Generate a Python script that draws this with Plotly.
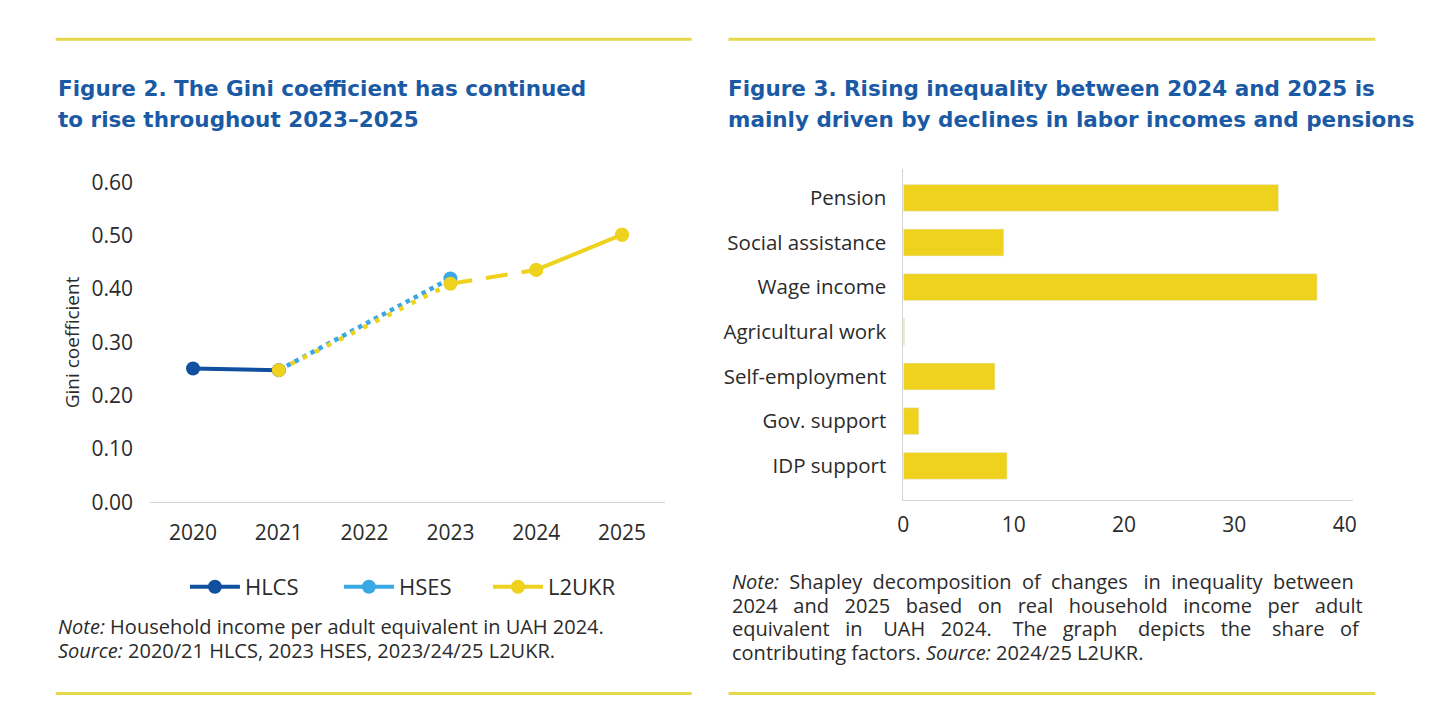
import re
import plotly.graph_objects as go

# page body keeps its default 8px margin, so the figure is sized to fit inside it
W, H = 1427, 711
OFF = 8

# --- Figure 2 data: Gini coefficient by survey
years = [2020, 2021, 2022, 2023, 2024, 2025]
hlcs_years = [2020, 2021]
hlcs_gini = [0.251, 0.248]
hses_years = [2023]
hses_gini = [0.42]
l2ukr_years = [2021, 2023, 2024, 2025]
l2ukr_gini = [0.248, 0.41, 0.436, 0.502]

# --- Figure 3 data: Shapley decomposition shares
factors = ["Pension", "Social assistance", "Wage income", "Agricultural work",
           "Self-employment", "Gov. support", "IDP support"]
shares = [34.0, 9.1, 37.5, 0.1, 8.3, 1.4, 9.4]

DARK_BLUE = "#114f9f"
LIGHT_BLUE = "#3aa8e2"
YELLOW = "#eed21e"
TITLE_BLUE = "#1a5aa5"
TEXT = "#2b2b2b"
FONT = "Open Sans"
TITLE_FONT = "DejaVu Sans"


def px_x(p):
    return (p - OFF) / W


def px_y(p):
    return 1 - (p - OFF) / H


fig = go.Figure()

# HLCS solid
fig.add_trace(go.Scatter(
    x=hlcs_years, y=hlcs_gini, name="HLCS", mode="lines+markers",
    line=dict(color=DARK_BLUE, width=4), marker=dict(size=14, color=DARK_BLUE),
    legend="legend", xaxis="x", yaxis="y"))
# HSES dotted connector from last HLCS point
fig.add_trace(go.Scatter(
    x=[hlcs_years[-1]] + hses_years, y=[hlcs_gini[-1]] + hses_gini,
    mode="lines", line=dict(color=LIGHT_BLUE, width=4.5, dash="4.5px,4.5px"),
    showlegend=False, xaxis="x", yaxis="y"))
fig.add_trace(go.Scatter(
    x=hses_years, y=hses_gini, name="HSES", mode="lines+markers",
    line=dict(color=LIGHT_BLUE, width=4), marker=dict(size=14, color=LIGHT_BLUE),
    legend="legend2", xaxis="x", yaxis="y"))
# L2UKR: dotted, dashed, then solid segments
fig.add_trace(go.Scatter(
    x=l2ukr_years[0:2], y=l2ukr_gini[0:2], mode="lines",
    line=dict(color=YELLOW, width=4.5, dash="4.5px,9px"),
    showlegend=False, xaxis="x", yaxis="y"))
fig.add_trace(go.Scatter(
    x=l2ukr_years[1:3], y=l2ukr_gini[1:3], mode="lines",
    line=dict(color=YELLOW, width=4, dash="22px,14px"),
    showlegend=False, xaxis="x", yaxis="y"))
fig.add_trace(go.Scatter(
    x=l2ukr_years[2:4], y=l2ukr_gini[2:4], name="L2UKR", mode="lines+markers",
    line=dict(color=YELLOW, width=4), marker=dict(size=14, color=YELLOW),
    legend="legend3", xaxis="x", yaxis="y"))
fig.add_trace(go.Scatter(
    x=l2ukr_years, y=l2ukr_gini, mode="markers",
    marker=dict(size=14, color=YELLOW), showlegend=False,
    xaxis="x", yaxis="y"))

# Figure 3 bars
fig.add_trace(go.Bar(
    x=shares, y=factors, orientation="h", marker=dict(color=YELLOW),
    width=0.6, showlegend=False, xaxis="x2", yaxis="y2"))

tick_font = dict(family=FONT, size=21, color=TEXT)


def legend_at(x):
    return dict(
        orientation="h", x=px_x(x), y=px_y(595), xanchor="left", yanchor="middle",
        font=dict(family=FONT, size=22, color=TEXT), bgcolor="rgba(0,0,0,0)",
        itemwidth=50)


fig.update_layout(
    width=W, height=H,
    margin=dict(l=0, r=0, t=0, b=0),
    paper_bgcolor="white",
    plot_bgcolor="rgba(0,0,0,0)",
    font=dict(family=FONT, color=TEXT),
    xaxis=dict(
        domain=[px_x(145), px_x(663)], range=[2019.5, 2025.5],
        tickvals=years, ticktext=[str(y) for y in years],
        showgrid=False, zeroline=False, showline=False,
        ticks="", ticklabelstandoff=16, tickfont=tick_font, anchor="y"),
    yaxis=dict(
        domain=[px_y(507), px_y(174)], range=[0, 0.6],
        tickvals=[0, 0.1, 0.2, 0.3, 0.4, 0.5, 0.6], tickformat=".2f",
        showgrid=False, zeroline=True, zerolinecolor="#d4d4d4", zerolinewidth=1,
        showline=False, ticks="", ticklabelstandoff=16, tickfont=tick_font,
        title=dict(text="Gini coefficient", font=dict(family=FONT, size=19, color=TEXT),
                   standoff=6),
        anchor="x"),
    xaxis2=dict(
        domain=[px_x(903), px_x(1356)], range=[0, 40.8],
        tickvals=[0, 10, 20, 30, 40],
        showgrid=False, zeroline=False, showline=True, linecolor="#d4d4d4",
        linewidth=1, ticks="", ticklabelstandoff=5, tickfont=tick_font,
        anchor="y2"),
    yaxis2=dict(
        domain=[px_y(505), px_y(160)], range=[6.774, -0.645],
        categoryorder="array", categoryarray=factors,
        showgrid=False, zeroline=False, showline=True, linecolor="#d4d4d4",
        linewidth=1, ticks="", ticklabelstandoff=12,
        tickfont=dict(family=FONT, size=20.5, color=TEXT),
        anchor="x2"),
    legend=legend_at(180),
    legend2=legend_at(335),
    legend3=legend_at(485),
)

shapes = []
for x0, x1 in [(50, 690), (727, 1378)]:
    for yy in (25, 706):
        shapes.append(dict(type="line", xref="paper", yref="paper",
                           x0=px_x(x0), x1=px_x(x1), y0=px_y(yy), y1=px_y(yy),
                           line=dict(color="#e6d84a", width=3)))
fig.update_layout(shapes=shapes)

ann = []


def text(x, y, s, size=20, color=TEXT, bold=False, anchor="left", family=FONT):
    ann.append(dict(
        xref="paper", yref="paper", x=px_x(x), y=px_y(y), xanchor=anchor, yanchor="middle",
        text=f"<b>{s}</b>" if bold else s, showarrow=False,
        font=dict(family=family, size=size, color=color)))


# rough Open Sans advance widths (em) used to spread justified words
NARROW = set("ijlI.,:;'|!")
MID = set("frt/-()")
WIDE = set("mwMW")
SPACE_EM = 0.26


def est_width(word, size):
    w = 0.0
    for ch in re.sub(r"<[^>]+>", "", word):
        if ch in NARROW:
            w += 0.26
        elif ch in MID:
            w += 0.37
        elif ch in WIDE:
            w += 0.86
        elif ch.isdigit():
            w += 0.572
        elif ch.isupper():
            w += 0.66
        elif ch in "cszvyxk":
            w += 0.49
        else:
            w += 0.59
    return w * size


def justified(line, y, x0=729, x1=1358, size=20):
    # pad the gaps with non-breaking spaces so the line fills the column
    words = line.split(" ")
    widths = [est_width(w, size) for w in words]
    gap = (x1 - x0 - sum(widths)) / (len(words) - 1)
    sp = SPACE_EM * size
    out = words[0]
    target = 0.0
    placed = 0.0
    for w in words[1:]:
        target += gap
        n = max(1, round((target - placed) / sp))
        placed += n * sp
        out += "\u00a0" * n + w
    text(x0, y, out, size=size)


text(50, 76, "Figure 2. The Gini coefficient has continued", 21.5, TITLE_BLUE, True,
     family=TITLE_FONT)
text(50, 108, "to rise throughout 2023–2025", 21.5, TITLE_BLUE, True, family=TITLE_FONT)
text(725, 76, "Figure 3. Rising inequality between 2024 and 2025 is", 21.5, TITLE_BLUE,
     True, family=TITLE_FONT)
text(725, 108, "mainly driven by declines in labor incomes and pensions", 21.5, TITLE_BLUE,
     True, family=TITLE_FONT)

text(50, 636, "<i>Note:</i> Household income per adult equivalent in UAH 2024.")
text(50, 661, "<i>Source:</i> 2020/21 HLCS, 2023 HSES, 2023/24/25 L2UKR.")

justified("<i>Note:</i> Shapley decomposition of changes in inequality between", 589)
justified("2024 and 2025 based on real household income per adult", 614)
justified("equivalent in UAH 2024. The graph depicts the share of", 638)
text(729, 663, "contributing factors. <i>Source:</i> 2024/25 L2UKR.")

fig.update_layout(annotations=ann)

fig.write_html("out.html")
